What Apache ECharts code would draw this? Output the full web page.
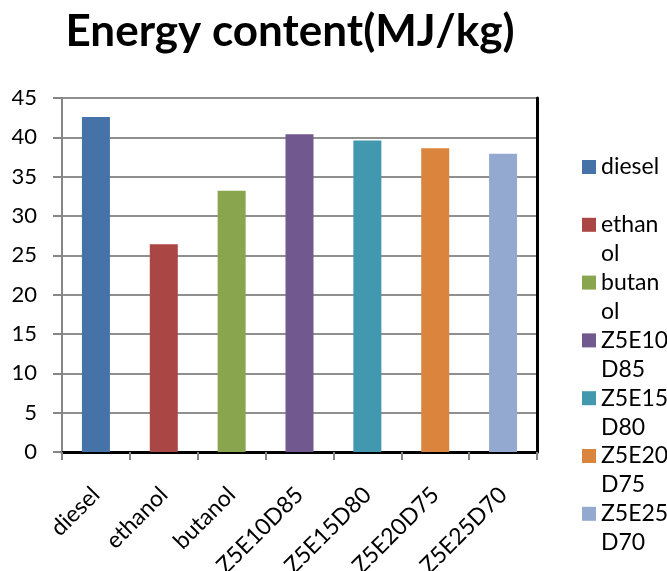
<!DOCTYPE html>
<html>
<head>
<meta charset="utf-8">
<script src="https://cdn.jsdelivr.net/npm/echarts@6/dist/echarts.min.js"></script>
<style>
  html, body { margin: 0; padding: 0; background: #fff; }
  #chart { width: 667px; height: 571px; }
</style>
</head>
<body>
<div id="chart"></div>
<script>
// Fuel blends and their energy content (MJ/kg)
const categories = ['diesel', 'ethanol', 'butanol', 'Z5E10D85', 'Z5E15D80', 'Z5E20D75', 'Z5E25D70'];
const energyValues = [42.6, 26.4, 33.2, 40.4, 39.6, 38.6, 37.9];
// Legend text as it wraps in the narrow legend column
const legendLabels = ['diesel\n ', 'ethan\nol', 'butan\nol', 'Z5E10\nD85', 'Z5E15\nD80', 'Z5E20\nD75', 'Z5E25\nD70'];
const yTicks = { min: 0, max: 45, step: 5 };

const palette = ['#4572A7', '#AA4643', '#89A54E', '#71588F', '#4198AF', '#DB843D', '#93A9CF'];
const FONT = 'Lato';
const LINE = 29;
const ITEM_STEP = 57.8;

// One series per fuel so each gets its own legend entry; stacking keeps bars centred.
const series = categories.map((name, i) => ({
  name: name,
  type: 'bar',
  stack: 'fuel',
  barWidth: 28,
  itemStyle: { color: palette[i] },
  data: categories.map((_, j) => (j === i ? energyValues[i] : null))
}));

const chart = echarts.init(document.getElementById('chart'), null, { renderer: 'canvas' });
chart.setOption({
  animation: false,
  backgroundColor: '#fff',
  title: {
    text: 'Energy content(MJ/kg)',
    left: 285,
    textAlign: 'center',
    top: 5,
    textStyle: { fontFamily: FONT, fontWeight: 'bold', fontSize: 44, color: '#000' }
  },
  legend: {
    orient: 'vertical',
    left: 577,
    top: 166 - 1.5 * LINE - 4,
    icon: 'rect',
    itemWidth: 14,
    itemHeight: 14,
    itemGap: ITEM_STEP - 3 * LINE,
    data: categories,
    // a blank leading line keeps the swatch level with the first text line
    formatter: name => '\n' + legendLabels[categories.indexOf(name)],
    textStyle: { fontFamily: FONT, fontSize: 23, color: '#000', lineHeight: LINE }
  },
  grid: { left: 62, right: 130, top: 98, bottom: 119, outerBoundsMode: 'none' },
  xAxis: [
    {
      type: 'category',
      data: categories,
      axisLine: { lineStyle: { color: '#868686', width: 2 } },
      axisTick: { show: true, interval: 0, length: 8, lineStyle: { color: '#868686', width: 2 } },
      axisLabel: {
        interval: 0, rotate: 45, margin: 39,
        fontFamily: FONT, fontSize: 23, color: '#000'
      }
    },
    {
      // frame edge along the top of the plot
      type: 'category',
      position: 'top',
      data: categories,
      axisLine: { lineStyle: { color: '#000', width: 3 } },
      axisTick: { show: false },
      axisLabel: { show: false }
    }
  ],
  yAxis: [
    {
      type: 'value',
      min: yTicks.min,
      max: yTicks.max,
      interval: yTicks.step,
      axisLine: { show: true, lineStyle: { color: '#868686', width: 2 } },
      axisTick: { show: true, length: 9, lineStyle: { color: '#868686', width: 2 } },
      axisLabel: { margin: 25, fontFamily: FONT, fontSize: 22, color: '#000' },
      splitLine: { lineStyle: { color: '#8f8f8f', width: 2 } }
    },
    {
      // frame edge along the right of the plot
      type: 'value',
      position: 'right',
      min: yTicks.min,
      max: yTicks.max,
      interval: yTicks.step,
      axisLine: { show: true, lineStyle: { color: '#000', width: 3 } },
      axisTick: { show: false },
      axisLabel: { show: false },
      splitLine: { show: false }
    }
  ],
  series: series
});
</script>
</body>
</html>
